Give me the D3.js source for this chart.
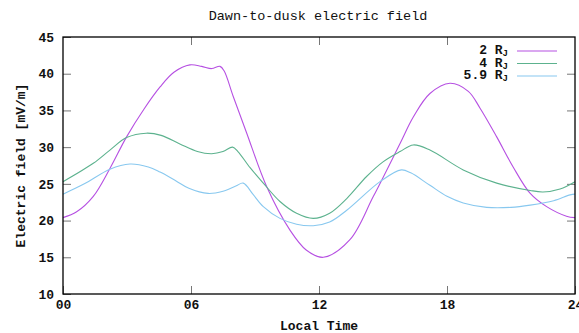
<!DOCTYPE html>
<html>
<head>
<meta charset="utf-8">
<script src="https://cdn.jsdelivr.net/npm/d3@7"></script>
<style>
  body { margin: 0; background: #fff; }
  text { font-family: "Liberation Mono", "DejaVu Sans Mono", monospace; fill: #111; }
</style>
</head>
<body>
<div id="chart"></div>
<script>
// values (local time in hours, field in mV/m)
var hours2 = [0, 0.64, 1.42, 2.2, 2.98, 3.8, 4.55, 5.2, 5.95, 6.5, 6.97, 7.36, 7.55, 7.98, 8.6, 9.55, 10.64, 11.4, 12.2, 13.45, 14.55, 15.8, 16.42, 17.2, 18.14, 19.0, 19.55, 20.33, 21.1, 21.9, 22.67, 23.6, 24];
var field2 = [20.4, 21.2, 23.3, 27.1, 31.4, 35.2, 38.2, 40.2, 41.2, 41.0, 40.7, 41.0, 40.4, 36.9, 32.0, 24.6, 18.7, 16.0, 15.0, 17.4, 23.3, 30.5, 34.1, 37.3, 38.7, 37.6, 35.3, 31.4, 27.3, 23.7, 21.9, 20.6, 20.4];

var hours4 = [0, 1.42, 2.2, 2.98, 3.9, 4.6, 5.5, 6.3, 6.97, 7.5, 7.95, 8.2, 8.77, 9.39, 10.17, 10.95, 11.73, 12.5, 13.3, 14.23, 15.0, 15.8, 16.42, 17.2, 18.76, 20.33, 21.9, 22.5, 23.3, 24];
var field4 = [25.3, 27.8, 29.6, 31.3, 31.9, 31.6, 30.4, 29.4, 29.1, 29.4, 30.0, 29.4, 27.2, 25.1, 22.6, 21.0, 20.3, 21.0, 23.0, 26.0, 28.0, 29.4, 30.3, 29.6, 26.9, 25.1, 24.1, 23.9, 24.3, 25.3];

var hours59 = [0, 1.0, 2.2, 3.14, 4.0, 4.55, 5.3, 5.9, 6.8, 7.5, 8.1, 8.45, 8.9, 9.39, 10.17, 10.95, 11.73, 12.5, 13.3, 14.86, 15.86, 16.3, 17.2, 18.0, 18.76, 19.86, 21.0, 21.9, 23.0, 23.77, 24];
var field59 = [23.6, 25.0, 27.0, 27.7, 27.3, 26.6, 25.4, 24.4, 23.7, 24.0, 24.7, 25.1, 23.6, 21.9, 20.3, 19.5, 19.3, 19.8, 21.4, 25.3, 26.9, 26.5, 24.8, 23.3, 22.4, 21.8, 21.8, 22.1, 22.7, 23.5, 23.6];

var seriesNames = ["2", "4", "5.9"];
var seriesColors = ["#b650e2", "#5cb28e", "#88c8ef"];
var xTicks = [0, 6, 12, 18, 24];
var yTicks = [10, 15, 20, 25, 30, 35, 40, 45];

var series = [
  { name: seriesNames[0], color: seriesColors[0], x: hours2, y: field2 },
  { name: seriesNames[1], color: seriesColors[1], x: hours4, y: field4 },
  { name: seriesNames[2], color: seriesColors[2], x: hours59, y: field59 }
];

var W = 579, H = 333;
var margin = { top: 37, right: 4, bottom: 39, left: 63 },
  width = W - margin.left - margin.right,
  height = H - margin.top - margin.bottom;

var svg = d3.select("#chart").append("svg")
  .attr("width", W)
  .attr("height", H);

var g = svg.append("g")
  .attr("transform", "translate(" + margin.left + "," + margin.top + ")");

var x = d3.scaleLinear().domain([0, 24]).range([0, width]);
var y = d3.scaleLinear().domain([10, 45]).range([height, 0]);

var fmtHour = function (d) { return d3.format("02d")(d); };

// inward ticks on all four sides
var xAxis = d3.axisBottom(x).tickValues(xTicks).tickSize(-8).tickPadding(6).tickFormat(fmtHour);
var xAxisTop = d3.axisTop(x).tickValues(xTicks.slice(1, -1)).tickSize(-8).tickFormat("");
var yAxis = d3.axisLeft(y).tickValues(yTicks).tickSize(-8).tickPadding(9);
var yAxisRight = d3.axisRight(y).tickValues(yTicks.slice(1, -1)).tickSize(-8).tickFormat("");

function styleAxis(sel) {
  sel.select(".domain").remove();
  sel.selectAll(".tick line").attr("stroke", "#777");
  sel.selectAll(".tick text")
    .style("font-size", "13px")
    .style("font-weight", "bold")
    .attr("fill", "#111");
}

g.append("g").attr("transform", "translate(0," + height + ")").call(xAxis).call(styleAxis);
g.append("g").call(xAxisTop).call(styleAxis);
g.append("g").call(yAxis).call(styleAxis);
g.append("g").attr("transform", "translate(" + width + ",0)").call(yAxisRight).call(styleAxis);

var line = d3.line()
  .curve(d3.curveCatmullRom.alpha(0.5))
  .x(d => x(d[0]))
  .y(d => y(d[1]));

g.selectAll(".series")
  .data(series)
  .enter().append("path")
  .attr("class", "series")
  .attr("fill", "none")
  .attr("stroke", d => d.color)
  .attr("stroke-width", 1.1)
  .attr("d", d => line(d.x.map((h, i) => [h, d.y[i]])));

// border
g.append("rect")
  .attr("width", width)
  .attr("height", height)
  .attr("fill", "none")
  .attr("stroke", "#000")
  .attr("stroke-width", 1.3);

// legend
var legend = g.selectAll(".legend")
  .data(series)
  .enter().append("g")
  .attr("class", "legend")
  .attr("transform", (d, i) => "translate(0," + (14 + i * 12.5) + ")");

var lt = legend.append("text")
  .attr("x", 445)
  .attr("text-anchor", "end")
  .attr("dy", "0.25em")
  .style("font-size", "13px")
  .style("font-weight", "bold");
lt.append("tspan").text(d => d.name + " R");
lt.append("tspan").attr("dy", "2").style("font-size", "9px").text("J");

legend.append("line")
  .attr("x1", 454).attr("x2", 494)
  .attr("stroke", d => d.color)
  .attr("stroke-width", 1.1);

// titles
svg.append("text")
  .attr("x", 318)
  .attr("y", 20)
  .attr("text-anchor", "middle")
  .style("font-size", "13.5px")
  .text("Dawn-to-dusk electric field");

svg.append("text")
  .attr("x", margin.left + width / 2)
  .attr("y", 330)
  .attr("text-anchor", "middle")
  .style("font-size", "13px")
  .style("font-weight", "bold")
  .text("Local Time");

svg.append("text")
  .attr("transform", "translate(25," + (margin.top + height / 2) + ") rotate(-90)")
  .attr("text-anchor", "middle")
  .style("font-size", "13px")
  .style("font-weight", "bold")
  .text("Electric field [mV/m]");
</script>
</body>
</html>
